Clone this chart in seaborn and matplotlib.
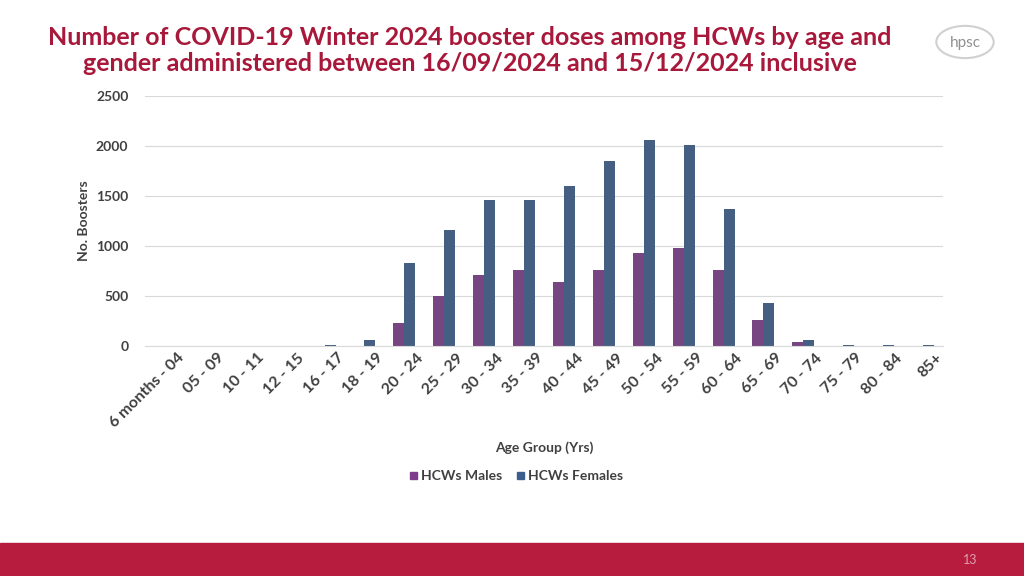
import matplotlib
matplotlib.use("Agg")
import matplotlib.pyplot as plt
import seaborn as sns
import pandas as pd
from matplotlib.patches import Rectangle, Circle
from matplotlib.transforms import ScaledTranslation

ages = ["6 months - 04","05 - 09","10 - 11","12 - 15","16 - 17","18 - 19","20 - 24","25 - 29","30 - 34","35 - 39",
        "40 - 44","45 - 49","50 - 54","55 - 59","60 - 64","65 - 69","70 - 74","75 - 79","80 - 84","85+"]
males = [0,0,0,0,3,5,230,500,710,760,640,760,930,980,760,265,45,5,3,2]
females = [0,0,0,2,12,60,835,1165,1460,1460,1605,1855,2065,2015,1375,435,65,15,8,8]

df = pd.DataFrame({"Age": ages*2, "Boosters": males+females,
                   "Series": ["HCWs Males"]*len(ages) + ["HCWs Females"]*len(ages)})

plt.rcParams["font.family"] = "Lato"
fig = plt.figure(figsize=(10.24, 5.76), dpi=100)
ax = fig.add_axes([145/1024, 1-346/576, 798/1024, 250/576])
sns.barplot(data=df, x="Age", y="Boosters", hue="Series", palette=["#7D3C8C", "#3B5E8C"],
            width=0.55, gap=0.0, ax=ax, legend=False)
ax.set_ylim(0, 2500)
ax.set_yticks(range(0, 2501, 500))
ax.yaxis.grid(True, color="#d9d9d9", lw=0.8)
ax.set_axisbelow(True)
for s in ["top", "right", "left"]:
    ax.spines[s].set_visible(False)
ax.spines["bottom"].set_color("#d9d9d9")
ax.tick_params(length=0, colors="#404040")
ax.tick_params(axis="y", labelsize=10, pad=12)
for l in ax.get_yticklabels():
    l.set_fontweight("bold")
ax.set_xticks(range(len(ages)))
ax.set_xticklabels(ages, rotation=45, ha="right", rotation_mode="anchor", fontweight="bold", fontsize=11.5)
off = ScaledTranslation(12/100, 0, fig.dpi_scale_trans)
for l in ax.get_xticklabels():
    l.set_transform(l.get_transform() + off)
ax.set_xlabel("Age Group (Yrs)", fontsize=10, fontweight="bold", color="#404040", labelpad=8)
ax.set_ylabel("No. Boosters", fontsize=10, fontweight="bold", color="#404040", labelpad=4)
ax.set_xlim(-0.5, len(ages)-0.5)

fig.text(0.459, 0.913, "Number of COVID-19 Winter 2024 booster doses among HCWs by age and\ngender administered between 16/09/2024 and 15/12/2024 inclusive",
         ha="center", va="center", fontsize=18, fontweight="bold", color="#A8183A", linespacing=1.15)

for x, c, t in [(410, "#7D3C8C", "HCWs Males"), (517, "#3B5E8C", "HCWs Females")]:
    fig.patches.append(Rectangle((x/1024, 1-479/576), 7/1024, 7/576, color=c, transform=fig.transFigure))
    fig.text((x+11)/1024, 1-476/576, t, fontsize=10, fontweight="bold", color="#404040", va="center")

fig.patches.append(Rectangle((0, 0), 1, 33/576, color="#B71C3E", transform=fig.transFigure))
fig.text(970/1024, 16/576, "13", fontsize=9, color="#e0a0b0", ha="center", va="center")
fig.patches.append(Circle((965/1024, 1-42/576), 0.028, fill=False, ec="#d0d0d0", lw=1.5,
                          transform=fig.transFigure))
fig.text(965/1024, 1-43/576, "hpsc", fontsize=11, color="#909090", ha="center", va="center")
fig.savefig("out.png", dpi=100)
